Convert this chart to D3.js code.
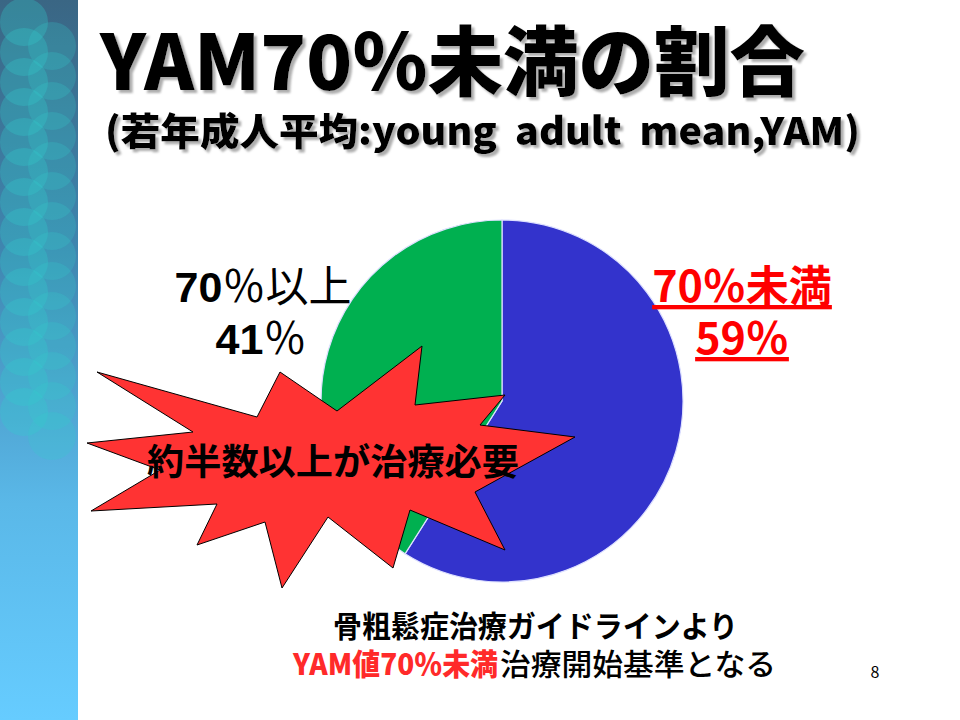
<!DOCTYPE html>
<html><head><meta charset="utf-8">
<script src="https://cdn.jsdelivr.net/npm/d3@7"></script>
<style>
html,body{margin:0;padding:0;background:#fff;}
svg{display:block;}
text{font-family:"Noto Sans CJK JP","Noto Sans",sans-serif;white-space:pre;}
</style></head><body>
<svg id="c" width="960" height="720"></svg>
<script>
// ---- data ----
const categories = ["70％未満", "70％以上"];
const values = [59, 41];
const sliceColors = ["#3333cc", "#00b050"];
const titleText = "YAM70％未満の割合";
const subtitleText = "(若年成人平均:young  adult  mean,YAM)";
const calloutText = "約半数以上が治療必要";
const noteLine1 = "骨粗鬆症治療ガイドラインより";
const noteLine2Red = "YAM値70％未満";
const noteLine2Black = "治療開始基準となる";
const pageNumber = "8";

const svg = d3.select("#c");

// ---- sidebar ----
const defs = svg.append("defs");
const g1 = defs.append("linearGradient").attr("id","side").attr("x1",0).attr("y1",0).attr("x2",0).attr("y2",1);
g1.append("stop").attr("offset","0%").attr("stop-color","#3a6684");
g1.append("stop").attr("offset","35%").attr("stop-color","#3f86b0");
g1.append("stop").attr("offset","70%").attr("stop-color","#5ab8e8");
g1.append("stop").attr("offset","100%").attr("stop-color","#66ccff");
const sh = defs.append("filter").attr("id","shadow").attr("x","-5%").attr("y","-20%").attr("width","110%").attr("height","150%");
sh.append("feDropShadow").attr("dx",3).attr("dy",3).attr("stdDeviation",1.2)
  .attr("flood-color","#999").attr("flood-opacity",0.8);

svg.append("rect").attr("x",0).attr("y",0).attr("width",78).attr("height",720).attr("fill","url(#side)");
const side = svg.append("g");
for (let k = 0; k < 14; k++) {
  side.append("ellipse").attr("cx",24).attr("cy",22 + k*30).attr("rx",24).attr("ry",24)
    .attr("fill","#33cccc").attr("opacity",0.3);
  side.append("ellipse").attr("cx",52).attr("cy",46 + k*30).attr("rx",24).attr("ry",24)
    .attr("fill","#33cccc").attr("opacity",0.25);
}

// ---- title + subtitle (one text block, two lines) ----
const tt = svg.append("text").attr("font-weight",900).attr("fill","#000").attr("filter","url(#shadow)");
tt.append("tspan").attr("x",100).attr("y",90).attr("font-size",76)
  .attr("textLength",705).attr("lengthAdjust","spacingAndGlyphs").text(titleText);
tt.append("tspan").attr("x",105).attr("y",145).attr("font-size",38)
  .attr("textLength",755).attr("lengthAdjust","spacingAndGlyphs").text(subtitleText);

// ---- pie ----
const cx = 502, cy = 401, R = 181;
const pie = d3.pie().sort(null).value(d => d)(values);
const arc = d3.arc().innerRadius(0).outerRadius(R);
const pg = svg.append("g").attr("transform",`translate(${cx},${cy})`);
pg.selectAll("path").data(pie).join("path")
  .attr("d", arc).attr("fill",(d,i)=>sliceColors[i])
  .attr("stroke","#dde0ff").attr("stroke-width",1.2);

// ---- labels (each a two-line text block) ----
const lblL = svg.append("text").attr("text-anchor","middle").attr("font-size",43).attr("fill","#000");
lblL.append("tspan").attr("x",263).attr("y",302).attr("font-weight",700).attr("font-family","Liberation Sans, Arial, sans-serif").text(categories[1].slice(0,2));
lblL.append("tspan").attr("font-weight",400).text(categories[1].slice(2));
lblL.append("tspan").attr("x",261).attr("y",354).attr("font-weight",700).attr("font-family","Liberation Sans, Arial, sans-serif").text(String(values[1]));
lblL.append("tspan").attr("font-weight",400).text("％");

const lblR = svg.append("text").attr("text-anchor","middle").attr("font-size",43)
  .attr("font-weight",700).attr("fill","#ff0000").attr("text-decoration","underline");
lblR.append("tspan").attr("x",742).attr("y",302).text(categories[0]);
lblR.append("tspan").attr("x",742).attr("y",354).text(values[0] + "％");

// ---- starburst callout ----
const star = [[97,372],[257,417],[280,372],[337,411],[422,346],[415,405],[505,395],[480,425],[575,437],
  [475,492],[505,550],[410,510],[393,568],[328,517],[282,588],[265,522],[197,545],[217,504],[91,511],
  [160,470],[87,443],[193,432]];
svg.append("path").attr("d", d3.line()(star) + "Z").attr("fill","#ff3333")
  .attr("stroke","#000").attr("stroke-width",1);
svg.append("text").attr("x",333).attr("y",475).attr("text-anchor","middle").attr("font-size",36)
  .attr("font-weight",700).attr("fill","#000").attr("textLength",372).attr("lengthAdjust","spacingAndGlyphs").text(calloutText);

// ---- notes ----
const note = svg.append("text").attr("font-size",30);
note.append("tspan").attr("x",333).attr("y",637).attr("font-weight",700).attr("fill","#000")
  .attr("textLength",405).attr("lengthAdjust","spacingAndGlyphs").text(noteLine1);
note.append("tspan").attr("x",293).attr("y",675).attr("font-weight",900).attr("fill","#ff2a2a")
  .attr("textLength",205).attr("lengthAdjust","spacingAndGlyphs").text(noteLine2Red);
note.append("tspan").attr("x",500).attr("y",675).attr("font-weight",500).attr("fill","#000")
  .attr("textLength",276).attr("lengthAdjust","spacingAndGlyphs").text(noteLine2Black);

svg.append("text").attr("x",875).attr("y",678).attr("text-anchor","middle").attr("font-size",16)
  .attr("font-family","Liberation Serif, serif").attr("fill","#000").text(pageNumber);
</script>
</body></html>
